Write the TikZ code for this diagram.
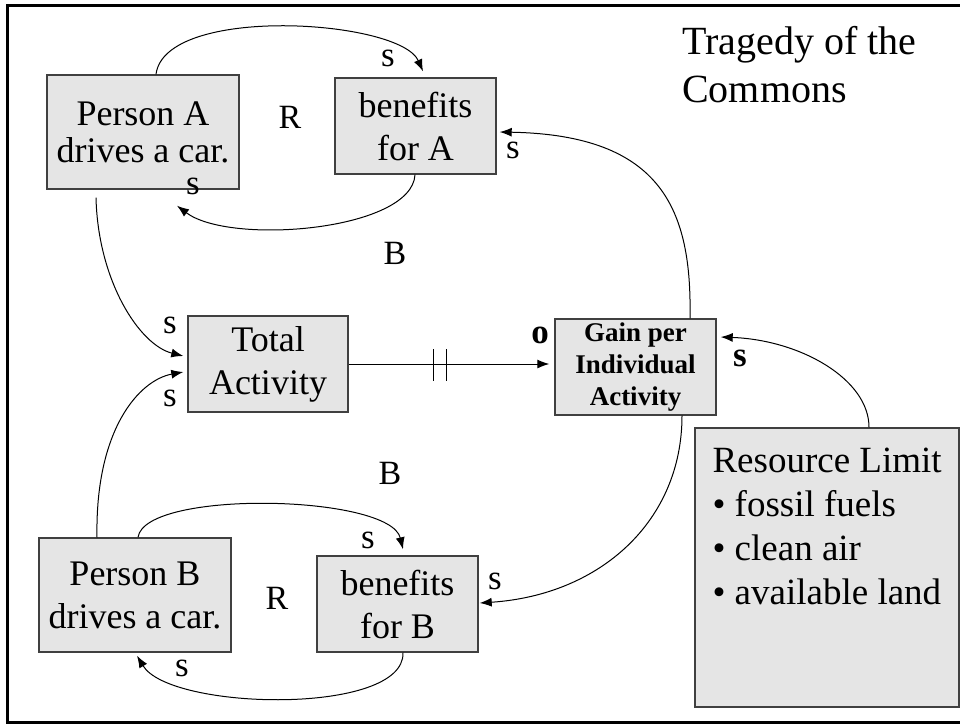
\documentclass[tikz,border=0pt]{standalone}
\usepackage{fontspec}
\setmainfont{Liberation Serif}
\usetikzlibrary{arrows.meta,calc}

\tikzset{
  box/.style={draw=black!75, line width=1.4pt, fill=black!10, align=center,
              inner sep=0pt, font=\fontsize{36}{43}\selectfont},
  arr/.style={line width=1pt, -{Latex[length=12pt,width=9pt]}},
  pol/.style={font=\fontsize{35}{40}\selectfont, inner sep=0pt},
  loopname/.style={font=\fontsize{34}{38}\selectfont, inner sep=0pt},
}

\begin{document}
\begin{tikzpicture}[x=1pt, y=-1pt]
\useasboundingbox (0,0) rectangle (960,724);

% outer frame (its right side runs past the page edge)
\draw[line width=3pt] (985,5) -- (7,5) -- (7,722) -- (985,722);

% title
\node[anchor=north west, align=left, inner sep=0pt,
      font=\fontsize{40}{48}\selectfont] (title) at (682,26)
  {Tragedy of the\\Commons};

% variables
\node[box, minimum width=192pt, minimum height=114pt,
      font=\fontsize{36}{37}\selectfont] (PA) at (143,132) {Person A\\drives a car.};
\node[box, minimum width=161pt, minimum height=96pt] (BA) at (415.5,126) {benefits\\for A};
\node[box, minimum width=160pt, minimum height=96pt] (TA) at (268,364) {Total\\Activity};
\node[box, minimum width=161pt, minimum height=96pt,
      font=\fontsize{27}{32}\selectfont\bfseries] (G) at (635.5,367) {Gain per\\Individual\\Activity};
\node[box, minimum width=192pt, minimum height=114pt] (PB) at (135,595) {Person B\\drives a car.};
\node[box, minimum width=161pt, minimum height=96pt] (BB) at (397.5,604) {benefits\\for B};
\node[box, minimum width=264pt, minimum height=279pt] (RL) at (827,567.5) {};
\node[anchor=north west, align=left, inner sep=0pt,
      font=\fontsize{37}{44}\selectfont] (RLtext) at ($(RL.north west)+(18,20)$)
  {Resource Limit\\\textbullet\ fossil fuels\\\textbullet\ clean air\\\textbullet\ available land};

% loop of person A
\draw[arr] ($(PA.north)+(13,0)$) .. controls +(9,-70) and +(-23,-52) .. ($(BA.north)+(7.5,-6)$);
\draw[arr] ($(BA.south)+(-0.5,0)$) .. controls +(-3,56) and +(53,40) .. ($(PA.south)+(34,16)$);

% loop of person B
\draw[arr] ($(PB.north)+(3,0)$) .. controls +(7,-48) and +(-13,-55) .. ($(BB.north)+(5.5,-6)$);
\draw[arr] ($(BB.south)+(5.5,0)$) .. controls +(2,63) and +(33,55) .. ($(PB.south)+(2,3)$);

% into total activity
\draw[arr] ($(PA.south)+(-47,8)$) .. controls +(2,83) and +(-44,-11) .. ($(TA.west)+(-4,-8)$);
\draw[arr] ($(PB.north)+(-38,0)$) .. controls +(-2,-108) and +(-44,8) .. ($(TA.west)+(-4,8)$);

% delayed link
\draw[arr, shorten >=5pt] (TA.east) -- (TA.east -| G.west);
\draw[line width=1pt] ($(TA.east)+(85,-15)$) -- +(0,32);
\draw[line width=1pt] ($(TA.east)+(98,-15)$) -- +(0,32);

% gain back to benefits
\draw[arr] ($(G.north)+(54.5,0)$) .. controls +(2,-109) and +(162,3) .. ($(BA.east)+(3,6)$);
\draw[arr] ($(G.south)+(46.5,0)$) .. controls +(0,105) and +(121,-8) .. ($(BB.east)+(1,-1)$);

% resource limit to gain
\draw[arr] ($(RL.north)+(42,0)$) .. controls +(0,-48) and +(80,3) .. ($(G.east)+(4,-30)$);

% polarity labels
\node[pol] (s1) at (388,58) {s};
\node[pol] (s2) at (513,150) {s};
\node[pol] (s3) at (193,186) {s};
\node[pol] (s4) at (170,325) {s};
\node[pol] (s5) at (170,398) {s};
\node[pol, font=\fontsize{35}{40}\selectfont\bfseries] (o1) at (540,335) {o};
\node[pol, font=\fontsize{35}{40}\selectfont\bfseries] (s6) at (740,358) {s};
\node[pol] (s7) at (368,540) {s};
\node[pol] (s8) at (495,581) {s};
\node[pol] (s9) at (182,668) {s};

% loop labels
\node[loopname] (R1) at (290,117) {R};
\node[loopname] (B1) at (395,253) {B};
\node[loopname] (B2) at (390,473) {B};
\node[loopname] (R2) at (277,598) {R};
\end{tikzpicture}
\end{document}
